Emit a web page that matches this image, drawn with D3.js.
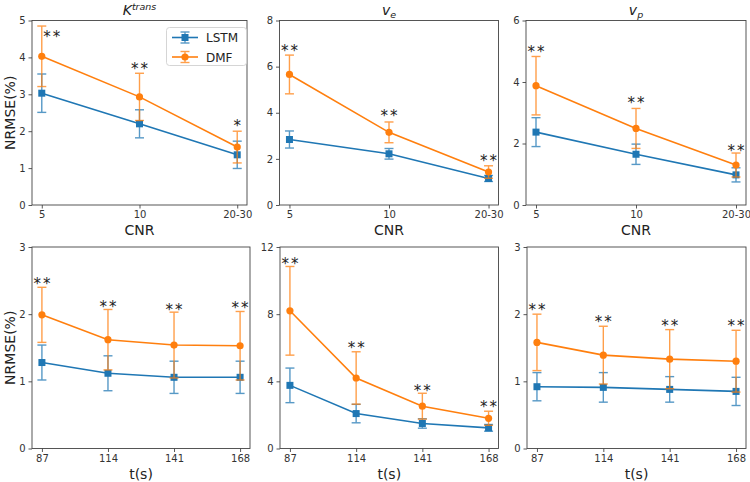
<!DOCTYPE html>
<html><head><meta charset="utf-8">
<script src="https://cdn.jsdelivr.net/npm/d3@7"></script>
<style>body{margin:0;background:#fff}svg{display:block}</style>
</head><body><svg id="c" width="750" height="482"></svg>
<script>
// ---------- data ----------
const cnrLabels = ["5", "10", "20-30"];
const timeLabels = ["87", "114", "141", "168"];

const ktransLSTM = [3.03, 2.20, 1.36];
const ktransLSTMErr = [0.52, 0.38, 0.37];
const ktransDMF = [4.03, 2.93, 1.57];
const ktransDMFErr = [0.82, 0.64, 0.43];
const ktransStars = ["**", "**", "*"];
const ktransStarY = [4.66, 3.79, 2.25];

const veLSTM = [2.84, 2.22, 1.15];
const veLSTMErr = [0.37, 0.23, 0.13];
const veDMF = [5.66, 3.15, 1.43];
const veDMFErr = [0.84, 0.45, 0.27];
const veStars = ["**", "**", "**"];
const veStarY = [6.84, 4.03, 2.08];

const vpLSTM = [2.37, 1.65, 0.98];
const vpLSTMErr = [0.47, 0.33, 0.23];
const vpDMF = [3.88, 2.49, 1.30];
const vpDMFErr = [0.95, 0.65, 0.39];
const vpStars = ["**", "**", "**"];
const vpStarY = [5.12, 3.44, 1.89];

const tKtransLSTM = [1.28, 1.12, 1.06, 1.06];
const tKtransLSTMErr = [0.26, 0.26, 0.24, 0.24];
const tKtransDMF = [1.99, 1.62, 1.54, 1.53];
const tKtransDMFErr = [0.41, 0.45, 0.49, 0.51];
const tKtransStars = ["**", "**", "**", "**"];
const tKtransStarY = [2.51, 2.16, 2.12, 2.15];

const tVeLSTM = [3.76, 2.08, 1.49, 1.23];
const tVeLSTMErr = [1.03, 0.55, 0.28, 0.20];
const tVeDMF = [8.20, 4.20, 2.52, 1.80];
const tVeDMFErr = [2.64, 1.56, 0.77, 0.42];
const tVeStars = ["**", "**", "**", "**"];
const tVeStarY = [11.24, 6.21, 3.68, 2.69];

const tVpLSTM = [0.92, 0.91, 0.88, 0.85];
const tVpLSTMErr = [0.21, 0.22, 0.19, 0.21];
const tVpDMF = [1.58, 1.39, 1.33, 1.30];
const tVpDMFErr = [0.42, 0.43, 0.44, 0.46];
const tVpStars = ["**", "**", "**", "**"];
const tVpStarY = [2.12, 1.94, 1.89, 1.89];

const seriesNames = ["LSTM", "DMF"];
const colors = {LSTM: "#1f77b4", DMF: "#ff7f0e"};

// ---------- layout ----------
const panels = [
  {title: ["K", "trans", "sup"], cats: cnrLabels, ymax: 5, yticks: [0,1,2,3,4,5],
   lstm: ktransLSTM, lstmErr: ktransLSTMErr, dmf: ktransDMF, dmfErr: ktransDMFErr,
   stars: ktransStars, starY: ktransStarY, starDx: [10,0,0],
   box: [32, 20.5, 247, 205], xlabel: "CNR", ylabel: true, legend: true},
  {title: ["v", "e", "sub"], cats: cnrLabels, ymax: 8, yticks: [0,2,4,6,8],
   lstm: veLSTM, lstmErr: veLSTMErr, dmf: veDMF, dmfErr: veDMFErr,
   stars: veStars, starY: veStarY,
   box: [279.5, 20.5, 498.5, 205], xlabel: "CNR"},
  {title: ["v", "p", "sub"], cats: cnrLabels, ymax: 6, yticks: [0,2,4,6],
   lstm: vpLSTM, lstmErr: vpLSTMErr, dmf: vpDMF, dmfErr: vpDMFErr,
   stars: vpStars, starY: vpStarY,
   box: [526, 20.5, 746, 205], xlabel: "CNR"},
  {cats: timeLabels, ymax: 3, yticks: [0,1,2,3],
   lstm: tKtransLSTM, lstmErr: tKtransLSTMErr, dmf: tKtransDMF, dmfErr: tKtransDMFErr,
   stars: tKtransStars, starY: tKtransStarY,
   box: [32, 247, 250, 448.5], xlabel: "t(s)", ylabel: true},
  {cats: timeLabels, ymax: 12, yticks: [0,4,8,12],
   lstm: tVeLSTM, lstmErr: tVeLSTMErr, dmf: tVeDMF, dmfErr: tVeDMFErr,
   stars: tVeStars, starY: tVeStarY,
   box: [280, 247, 498.5, 448.5], xlabel: "t(s)"},
  {cats: timeLabels, ymax: 3, yticks: [0,1,2,3],
   lstm: tVpLSTM, lstmErr: tVpLSTMErr, dmf: tVpDMF, dmfErr: tVpDMFErr,
   stars: tVpStars, starY: tVpStarY,
   box: [527, 247, 746, 448.5], xlabel: "t(s)"}
];

const svg = d3.select("#c");
const FONT = "'DejaVu Sans', sans-serif";
const tickColor = "#333";
const frameColor = "#444";
const textColor = "#222";

function drawMarker(g, name, x, y) {
  if (name === "LSTM") {
    g.append("rect").attr("x", x - 3.5).attr("y", y - 3.5).attr("width", 7).attr("height", 7)
      .attr("fill", colors[name]);
  } else {
    g.append("circle").attr("cx", x).attr("cy", y).attr("r", 3.6).attr("fill", colors[name]);
  }
}

panels.forEach(p => {
  const [x0, y0, x1, y1] = p.box;
  const n = p.cats.length;
  const x = d3.scalePoint().domain(p.cats).range([x0, x1]).padding(0.05 * (n - 1));
  const y = d3.scaleLinear().domain([0, p.ymax]).range([y1, y0]);
  const g = svg.append("g");

  // axes
  const ya = g.append("g").attr("transform", `translate(${x0},0)`)
    .call(d3.axisLeft(y).tickValues(p.yticks).tickSize(3.5).tickPadding(3).tickFormat(d3.format("d")));
  const xa = g.append("g").attr("transform", `translate(0,${y1})`)
    .call(d3.axisBottom(x).tickSize(3.5).tickPadding(2.5));
  [ya, xa].forEach(a => {
    a.select(".domain").remove();
    a.selectAll("line").attr("stroke", frameColor).attr("stroke-width", 0.9);
    a.selectAll("text").attr("font-family", FONT).attr("font-size", 10).attr("fill", tickColor);
  });

  // series
  const series = [
    {name: "LSTM", v: p.lstm, e: p.lstmErr},
    {name: "DMF", v: p.dmf, e: p.dmfErr}
  ];
  series.forEach(s => {
    const c = colors[s.name];
    const sg = g.append("g");
    const line = d3.line().x((d, i) => x(p.cats[i])).y(d => y(d));
    sg.append("path").attr("d", line(s.v)).attr("fill", "none").attr("stroke", c).attr("stroke-width", 1.6);
    const eg = sg.append("g").attr("stroke", c).attr("stroke-width", 1.4).attr("opacity", 0.75);
    s.v.forEach((v, i) => {
      const cx = x(p.cats[i]);
      const top = y(v + s.e[i]), bot = y(v - s.e[i]);
      eg.append("line").attr("x1", cx).attr("x2", cx).attr("y1", top).attr("y2", bot);
      eg.append("line").attr("x1", cx - 4.5).attr("x2", cx + 4.5).attr("y1", top).attr("y2", top);
      eg.append("line").attr("x1", cx - 4.5).attr("x2", cx + 4.5).attr("y1", bot).attr("y2", bot);
    });
    s.v.forEach((v, i) => drawMarker(sg, s.name, x(p.cats[i]), y(v)));
  });

  // significance stars
  p.stars.forEach((s, i) => {
    const dx = p.starDx ? p.starDx[i] : 0;
    g.append("text").attr("x", x(p.cats[i]) + dx + (s.length > 1 ? 1 : 0)).attr("y", y(p.starY[i]) + 9)
      .attr("text-anchor", "middle").attr("font-family", FONT).attr("font-size", 15)
      .attr("letter-spacing", s.length > 1 ? 2 : 0)
      .attr("fill", textColor).text(s);
  });

  // frame
  g.append("rect").attr("x", x0).attr("y", y0).attr("width", x1 - x0).attr("height", y1 - y0)
    .attr("fill", "none").attr("stroke", frameColor).attr("stroke-width", 0.9);

  // title
  if (p.title) {
    const t = g.append("text").attr("x", (x0 + x1) / 2).attr("y", 15).attr("text-anchor", "middle")
      .attr("font-family", FONT).attr("font-style", "italic").attr("font-size", 14).attr("fill", textColor);
    t.append("tspan").text(p.title[0]);
    t.append("tspan").attr("font-size", 9.5)
      .attr("dy", p.title[2] === "sup" ? -5 : 3).text(p.title[1]);
  }

  // x label
  g.append("text").attr("x", (x0 + x1) / 2).attr("y", y1 + 30).attr("text-anchor", "middle")
    .attr("font-family", FONT).attr("font-size", 14).attr("fill", textColor).text(p.xlabel);

  // y label
  if (p.ylabel) {
    g.append("text").attr("transform", `translate(15,${(y0 + y1) / 2}) rotate(-90)`)
      .attr("text-anchor", "middle").attr("font-family", FONT).attr("font-size", 14)
      .attr("fill", textColor).text("NRMSE(%)");
  }

  // legend
  if (p.legend) {
    const lg = g.append("g");
    lg.append("rect").attr("x", 166.5).attr("y", 27.5).attr("width", 80).attr("height", 38)
      .attr("rx", 3).attr("fill", "#fff").attr("fill-opacity", 0.85)
      .attr("stroke", "#d0d0d0").attr("stroke-width", 0.9);
    seriesNames.forEach((name, k) => {
      const ly = 37.5 + k * 19.5;
      const c = colors[name];
      lg.append("line").attr("x1", 172).attr("x2", 198).attr("y1", ly).attr("y2", ly)
        .attr("stroke", c).attr("stroke-width", 1.6);
      const eg = lg.append("g").attr("stroke", c).attr("stroke-width", 1.4).attr("opacity", 0.75);
      eg.append("line").attr("x1", 185).attr("x2", 185).attr("y1", ly - 5.5).attr("y2", ly + 5.5);
      eg.append("line").attr("x1", 180.5).attr("x2", 189.5).attr("y1", ly - 5.5).attr("y2", ly - 5.5);
      eg.append("line").attr("x1", 180.5).attr("x2", 189.5).attr("y1", ly + 5.5).attr("y2", ly + 5.5);
      drawMarker(lg, name, 185, ly);
      lg.append("text").attr("x", 206).attr("y", ly + 4.5).attr("font-family", FONT)
        .attr("font-size", 12).attr("fill", textColor).text(name);
    });
  }
});
</script>
</body></html>
